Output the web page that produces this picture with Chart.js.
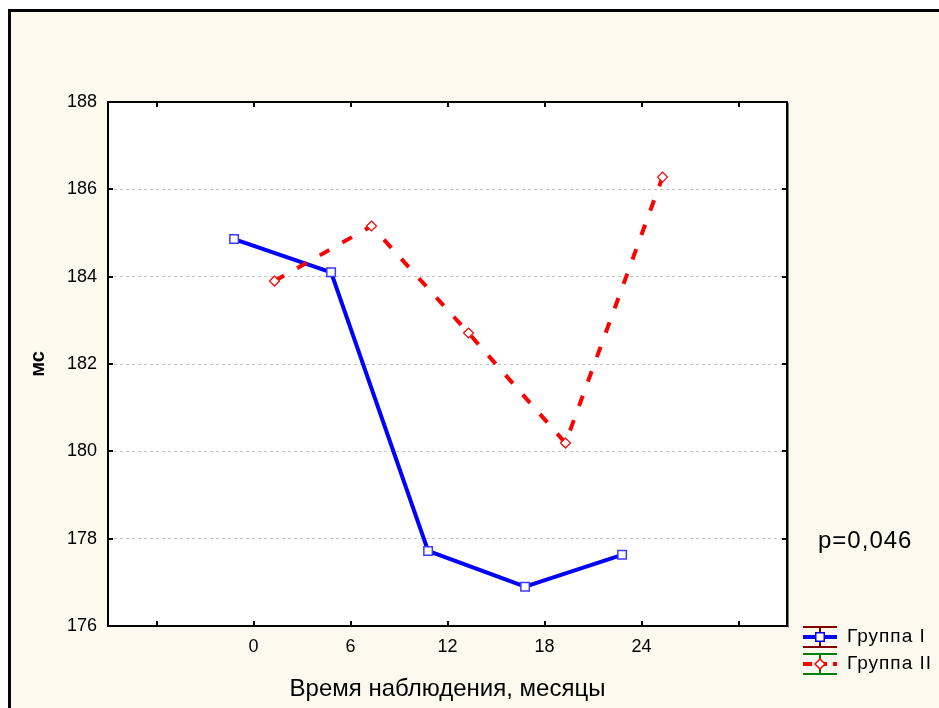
<!DOCTYPE html>
<html>
<head>
<meta charset="utf-8">
<script src="https://cdn.jsdelivr.net/npm/chart.js@4/dist/chart.umd.min.js"></script>
<style>
    html, body { margin: 0; padding: 0; background: #ffffff; }
    canvas { display: block; }
</style>
</head>
<body>
<canvas id="myChart" width="939" height="708"></canvas>
<script>
    var months = [0, 6, 12, 18, 24];
    var xTicks = [-6, 0, 6, 12, 18, 24, 30];
    var yTicks = [176, 178, 180, 182, 184, 186, 188];
    var group1 = [184.86, 184.1, 177.72, 176.9, 177.63];
    var group2 = [183.9, 185.16, 182.71, 180.19, 186.28];
    var seriesNames = ["Группа I", "Группа II"];
    var pText = "p=0,046";

    var FONT = "'Liberation Sans', Arial, sans-serif";

    // groups are drawn slightly apart around each month
    function points(values, shift) {
        return months.map(function (m, i) {
            return {x: m + shift, y: values[i]};
        });
    }

    var framePlugin = {
        id: 'frame',
        beforeDraw: function (chart) {
            var ctx = chart.ctx;
            var a = chart.chartArea;
            ctx.save();
            ctx.fillStyle = '#ffffff';
            ctx.fillRect(0, 0, chart.width, chart.height);
            ctx.fillStyle = '#fdf9ef';
            ctx.fillRect(8, 9, chart.width, chart.height);
            ctx.fillStyle = '#000000';
            ctx.fillRect(8, 9, chart.width, 3);
            ctx.fillRect(8, 9, 3, chart.height);
            ctx.fillStyle = '#ffffff';
            ctx.fillRect(a.left, a.top, a.right - a.left, a.bottom - a.top);
            ctx.restore();
        },
        beforeDatasetsDraw: function (chart) {
            var ctx = chart.ctx;
            var a = chart.chartArea;
            var xs = chart.scales.x;
            var ys = chart.scales.y;
            ctx.save();
            ctx.strokeStyle = '#000000';
            ctx.lineWidth = 2;
            ctx.strokeRect(a.left, a.top, a.right - a.left, a.bottom - a.top);
            ctx.strokeStyle = '#7a7a7a';
            ctx.lineWidth = 1;
            ctx.beginPath();
            ctx.moveTo(a.right + 1.5, a.top + 1);
            ctx.lineTo(a.right + 1.5, a.bottom + 1.5);
            ctx.stroke();
            // inward ticks on all four sides
            ctx.strokeStyle = '#000000';
            ctx.lineWidth = 2;
            ctx.beginPath();
            xTicks.forEach(function (v) {
                var px = Math.round(xs.getPixelForValue(v));
                ctx.moveTo(px, a.bottom);
                ctx.lineTo(px, a.bottom - 5);
                ctx.moveTo(px, a.top);
                ctx.lineTo(px, a.top + 5);
            });
            yTicks.forEach(function (v) {
                var py = Math.round(ys.getPixelForValue(v));
                ctx.moveTo(a.left, py);
                ctx.lineTo(a.left + 5, py);
                ctx.moveTo(a.right, py);
                ctx.lineTo(a.right - 5, py);
            });
            ctx.stroke();
            ctx.restore();
        },
        afterDraw: function (chart) {
            var ctx = chart.ctx;
            ctx.save();
            ctx.fillStyle = '#000000';
            ctx.font = '24px ' + FONT;
            ctx.letterSpacing = '1px';
            ctx.textBaseline = 'middle';
            ctx.fillText(pText, 818, 541);

            // legend with error-bar style icons
            var items = [
                {name: seriesNames[0], cy: 637, bar: '#800000', line: '#0000ff', dash: [], style: 'rect'},
                {name: seriesNames[1], cy: 664, bar: '#008000', line: '#ff0000', dash: [9, 6], style: 'rectRot'}
            ];
            items.forEach(function (it) {
                var x0 = 803, x1 = 837, cx = 820;
                ctx.strokeStyle = it.bar;
                ctx.lineWidth = 2;
                ctx.setLineDash([]);
                ctx.beginPath();
                ctx.moveTo(x0, it.cy - 10); ctx.lineTo(x1, it.cy - 10);
                ctx.moveTo(x0, it.cy + 10); ctx.lineTo(x1, it.cy + 10);
                ctx.moveTo(cx, it.cy - 10); ctx.lineTo(cx, it.cy + 10);
                ctx.stroke();
                ctx.strokeStyle = it.line;
                ctx.lineWidth = 4;
                ctx.setLineDash(it.dash);
                ctx.beginPath();
                ctx.moveTo(x0, it.cy); ctx.lineTo(x1, it.cy);
                ctx.stroke();
                ctx.setLineDash([]);
                ctx.fillStyle = '#ffffff';
                ctx.strokeStyle = it.line;
                ctx.lineWidth = 1.5;
                Chart.helpers.drawPoint(ctx, {pointStyle: it.style, radius: it.style === 'rect' ? 6 : 5, borderWidth: 1.5}, cx, it.cy);
                ctx.fillStyle = '#000000';
                ctx.font = '19px ' + FONT;
                ctx.letterSpacing = '1px';
                ctx.textBaseline = 'middle';
                ctx.fillText(it.name, 847, it.cy);
            });
            ctx.restore();
        }
    };

    new Chart("myChart", {
        type: "line",
        data: {
            datasets: [{
                label: seriesNames[0],
                data: points(group1, -1.2),
                borderColor: '#0000ff',
                borderWidth: 4,
                pointStyle: 'rect',
                pointRadius: 6,
                pointBorderWidth: 1.5,
                pointBorderColor: '#3a3aff',
                pointBackgroundColor: '#ffffff',
                order: 1
            }, {
                label: seriesNames[1],
                data: points(group2, 1.3),
                borderColor: '#ff0000',
                borderWidth: 4,
                borderDash: [11, 15],
                pointStyle: 'rectRot',
                pointRadius: 5,
                pointBorderWidth: 1.2,
                pointBorderColor: '#ff0000',
                pointBackgroundColor: '#ffffff',
                order: 0
            }]
        },
        options: {
            responsive: false,
            animation: false,
            layout: {
                padding: {left: 0, top: 102, right: 152, bottom: 0}
            },
            plugins: {
                legend: {display: false},
                tooltip: {enabled: false}
            },
            scales: {
                x: {
                    type: 'linear',
                    min: -9,
                    max: 33,
                    afterBuildTicks: function (scale) {
                        scale.ticks = xTicks.map(function (v) { return {value: v}; });
                    },
                    afterFit: function (scale) { scale.height = 82; },
                    grid: {display: false, drawTicks: false},
                    border: {display: false},
                    ticks: {
                        padding: 10,
                        maxRotation: 0,
                        autoSkip: false,
                        color: '#000000',
                        font: {family: FONT, size: 18},
                        callback: function (v) {
                            return months.indexOf(v) >= 0 ? String(v) : '';
                        }
                    },
                    title: {
                        display: true,
                        text: 'Время наблюдения, месяцы',
                        color: '#000000',
                        font: {family: FONT, size: 24},
                        padding: {top: 0, bottom: 4}
                    }
                },
                y: {
                    min: 176,
                    max: 188,
                    afterBuildTicks: function (scale) {
                        scale.ticks = yTicks.map(function (v) { return {value: v}; });
                    },
                    afterFit: function (scale) { scale.width = 108; },
                    grid: {
                        drawTicks: false,
                        lineWidth: 1,
                        color: function (c) {
                            var v = c.tick && c.tick.value;
                            return (v === 176 || v === 188) ? 'rgba(0,0,0,0)' : '#c8c8c8';
                        }
                    },
                    border: {display: false, dash: [3, 3]},
                    ticks: {
                        padding: 11,
                        color: '#000000',
                        font: {family: FONT, size: 18}
                    },
                    title: {
                        display: true,
                        text: 'мс',
                        color: '#000000',
                        font: {family: FONT, size: 20, weight: 'bold'},
                        padding: {top: 26, bottom: 0}
                    }
                }
            }
        },
        plugins: [framePlugin]
    });
</script>
</body>
</html>
